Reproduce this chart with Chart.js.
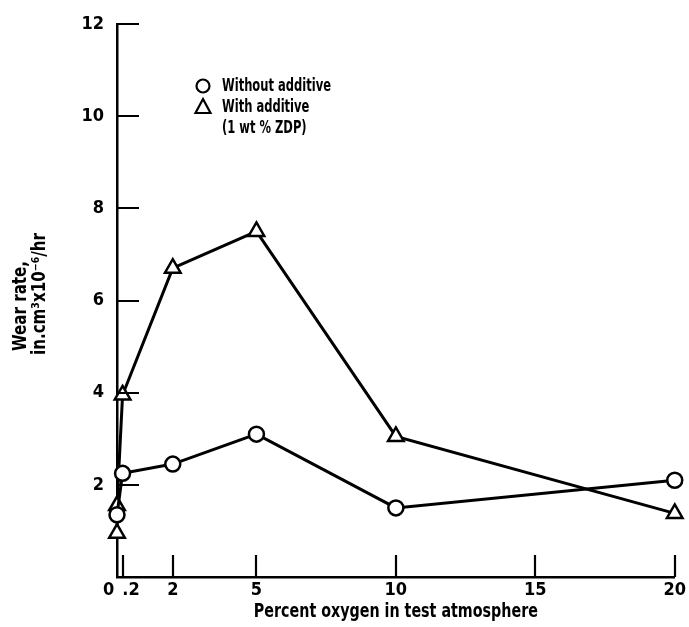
<!DOCTYPE html>
<html>
<head>
<meta charset="utf-8">
<script src="https://cdn.jsdelivr.net/npm/chart.js@4.4.1/dist/chart.umd.min.js"></script>
<style>
  html, body { margin: 0; padding: 0; background: #fff; }
  #wrap { width: 689px; height: 627px; }
</style>
</head>
<body>
<div id="wrap"><canvas id="wear_rate"></canvas></div>
<script>
// percent oxygen vs wear rate
const oxygenWithout = [0, 0.2, 2, 5, 10, 20];
const wearWithout = [1.35, 2.25, 2.45, 3.1, 1.5, 2.1];
const oxygenWith = [0, 0, 0.2, 2, 5, 10, 20];
const wearWith = [0.95, 1.55, 3.95, 6.7, 7.5, 3.05, 1.38];

const xTicks = [0, 0.2, 2, 5, 10, 15, 20];
const xTickLabels = ['0   ', '   .2', '2', '5', '10', '15', '20'];
const yTicks = [0, 2, 4, 6, 8, 10, 12];

const xTitle = 'Percent oxygen in test atmosphere';
const yTitleLines = ['Wear rate,', 'in.cm\u00b3x10\u207b\u2076/hr'];
const legendLines = ['Without additive', 'With additive', '(1 wt % ZDP)'];

const FONT = '"Liberation Sans Narrow", "DejaVu Sans Condensed", sans-serif';

const toPoints = (xs, ys) => xs.map((x, i) => ({ x: x, y: ys[i] }));

// squeeze a text run horizontally by factor k (the lettering is very condensed)
function narrowText(ctx, text, x, y, k, angle) {
  ctx.save();
  ctx.translate(x, y);
  if (angle) ctx.rotate(angle);
  ctx.scale(Math.min(1, k), 1);
  ctx.fillText(text, 0, 0);
  ctx.restore();
}

// inward ticks, axis titles and legend
const decorations = {
  id: 'decorations',
  afterDraw(chart) {
    const ctx = chart.ctx;
    const area = chart.chartArea;
    const xs = chart.scales.x, ys = chart.scales.y;
    ctx.save();
    ctx.strokeStyle = '#000';
    ctx.lineWidth = 2.2;
    ctx.beginPath();
    yTicks.forEach(v => {
      if (v === 0) return;
      const py = Math.round(ys.getPixelForValue(v));
      ctx.moveTo(area.left, py);
      ctx.lineTo(area.left + 22, py);
    });
    xTicks.forEach(v => {
      if (v === 0) return;
      const px = Math.round(xs.getPixelForValue(v));
      ctx.moveTo(px, area.bottom);
      ctx.lineTo(px, area.bottom - 22);
    });
    ctx.stroke();

    ctx.fillStyle = '#000';
    ctx.textAlign = 'center';
    ctx.textBaseline = 'middle';

    // x axis title
    ctx.font = 'bold 20px ' + FONT;
    narrowText(ctx, xTitle, (area.left + area.right) / 2, 612,
      284 / ctx.measureText(xTitle).width);

    // y axis title, two rotated lines squeezed alike
    ctx.font = 'bold 19px ' + FONT;
    const ky = 122 / ctx.measureText(yTitleLines[1]).width;
    narrowText(ctx, yTitleLines[0], 21, 306, ky, -Math.PI / 2);
    narrowText(ctx, yTitleLines[1], 40, 294, ky, -Math.PI / 2);

    // legend inside the plot
    const lx = area.left + 86, ly = area.top + 62;
    ctx.lineWidth = 2.2;
    ctx.fillStyle = '#fff';
    ctx.beginPath();
    ctx.arc(lx, ly, 6.5, 0, Math.PI * 2);
    ctx.fill();
    ctx.stroke();
    ctx.beginPath();
    ctx.moveTo(lx, ly + 13);
    ctx.lineTo(lx + 7.5, ly + 27);
    ctx.lineTo(lx - 7.5, ly + 27);
    ctx.closePath();
    ctx.fill();
    ctx.stroke();
    ctx.fillStyle = '#000';
    ctx.font = 'bold 18px ' + FONT;
    ctx.textAlign = 'left';
    const kl = 109 / ctx.measureText(legendLines[0]).width;
    legendLines.forEach((t, i) => narrowText(ctx, t, lx + 19, ly + i * 21, kl));
    ctx.restore();
  }
};

const ctx = document.getElementById('wear_rate').getContext('2d');
const wearChart = new Chart(ctx, {
  type: 'line',
  data: {
    datasets: [
      {
        label: 'Without additive',
        data: toPoints(oxygenWithout, wearWithout),
        clip: false,
        borderColor: '#000',
        borderWidth: 3,
        pointStyle: 'circle',
        pointRadius: 7.5,
        pointBorderWidth: 2.5,
        pointBackgroundColor: '#fff',
        pointBorderColor: '#000'
      },
      {
        label: 'With additive',
        data: toPoints(oxygenWith, wearWith),
        clip: false,
        borderColor: '#000',
        borderWidth: 3,
        pointStyle: 'triangle',
        pointRadius: 9,
        pointBorderWidth: 2.5,
        pointBackgroundColor: '#fff',
        pointBorderColor: '#000'
      }
    ]
  },
  options: {
    responsive: true,
    maintainAspectRatio: false,
    animation: false,
    layout: { padding: { top: 24, right: 11, left: 0, bottom: 0 } },
    plugins: { legend: { display: false }, tooltip: { enabled: false } },
    scales: {
      x: {
        type: 'linear',
        min: 0,
        max: 20,
        afterBuildTicks: scale => { scale.ticks = xTicks.map(v => ({ value: v })); },
        afterFit: scale => { scale.height = 50; },
        grid: { display: false, drawTicks: false },
        border: { display: true, color: '#000', width: 2.5 },
        ticks: {
          autoSkip: false,
          maxRotation: 0,
          padding: 3,
          color: '#000',
          font: { family: FONT, size: 18, weight: 'bold' },
          callback: (v, i) => xTickLabels[i]
        }
      },
      y: {
        min: 0,
        max: 12,
        afterBuildTicks: scale => { scale.ticks = yTicks.map(v => ({ value: v })); },
        afterFit: scale => { scale.width = 117; },
        grid: { display: false, drawTicks: false },
        border: { display: true, color: '#000', width: 2.5 },
        ticks: {
          padding: 13,
          color: '#000',
          font: { family: FONT, size: 18, weight: 'bold' },
          callback: v => (v === 0 ? '' : String(v))
        }
      }
    }
  },
  plugins: [decorations]
});
</script>
</body>
</html>
